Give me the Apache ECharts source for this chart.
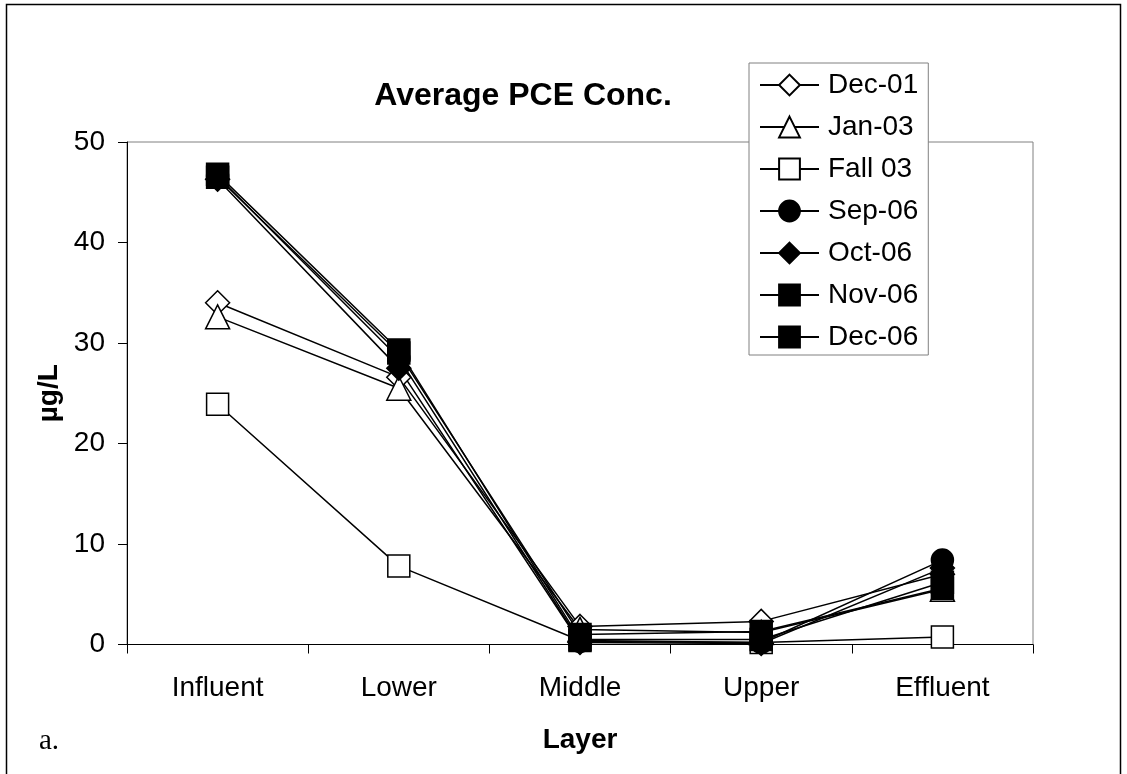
<!DOCTYPE html>
<html>
<head>
<meta charset="utf-8">
<script src="https://cdn.jsdelivr.net/npm/echarts@6/dist/echarts.min.js"></script>
<style>
html,body{margin:0;padding:0;background:#fff;}
#c{width:1127px;height:774px;}
</style>
</head>
<body>
<div id="c"></div>
<script>
var categories = ['Influent', 'Lower', 'Middle', 'Upper', 'Effluent'];
var seriesNames = ['Dec-01', 'Jan-03', 'Fall 03', 'Sep-06', 'Oct-06', 'Nov-06', 'Dec-06'];
var dec01 = [34.0, 26.6, 1.8, 2.3, 7.0];
var jan03 = [32.6, 25.5, 1.5, 1.2, 5.5];
var fall03 = [23.9, 7.8, 0.4, 0.2, 0.75];
var sep06 = [46.6, 28.5, 0.3, 0.2, 8.4];
var oct06 = [46.3, 27.5, 0.2, 0.1, 7.6];
var nov06 = [46.5, 29.0, 1.0, 1.3, 5.6];
var dec06 = [46.8, 29.3, 0.5, 0.5, 6.2];
var yTicks = [0, 10, 20, 30, 40, 50];

var FONT = 'Liberation Sans, Arial, sans-serif';
var seriesData = [dec01, jan03, fall03, sep06, oct06, nov06, dec06];
var symbols = ['diamond', 'triangle', 'rect', 'circle', 'diamond', 'rect', 'rect'];
var sizes = [24, 24, 22, 22, 24, 22, 22];
var filled = [false, false, false, true, true, true, true];

var series = seriesNames.map(function (n, i) {
  return {
    name: n,
    type: 'line',
    data: seriesData[i],
    symbol: symbols[i],
    symbolSize: sizes[i],
    showAllSymbol: true,
    animation: false,
    lineStyle: { color: '#000', width: 1.5 },
    itemStyle: {
      color: filled[i] ? '#000' : '#fff',
      borderColor: '#000',
      borderWidth: 1.5
    }
  };
});

var chart = echarts.init(document.getElementById('c'), null, { renderer: 'canvas' });
chart.setOption({
  backgroundColor: '#fff',
  animation: false,
  title: {
    text: 'Average PCE Conc.',
    left: 518,
    top: 75,
    textAlign: 'center',
    textStyle: { fontFamily: FONT, fontSize: 32, fontWeight: 'bold', color: '#000' }
  },
  grid: {
    left: 127, top: 142, right: 94, bottom: 129.5,
    show: true, borderColor: '#808080', borderWidth: 1, backgroundColor: '#fff'
  },
  legend: {
    orient: 'vertical',
    left: 749,
    top: 63,
    padding: [8, 10, 4, 10],
    itemWidth: 59,
    itemHeight: 26,
    itemGap: 14,
    backgroundColor: '#fff',
    borderColor: '#808080',
    borderWidth: 1,
    borderRadius: 0,
    textStyle: { fontFamily: FONT, fontSize: 28, lineHeight: 28, color: '#000', padding: [0, 0, 0, 4] },
    data: seriesNames
  },
  xAxis: {
    type: 'category',
    data: categories,
    boundaryGap: true,
    axisLine: { lineStyle: { color: '#000', width: 1 } },
    axisTick: { show: true, length: 9, lineStyle: { color: '#000' } },
    axisLabel: { fontFamily: FONT, fontSize: 28, color: '#000', margin: 30 },
    splitLine: { show: false },
    name: 'Layer',
    nameLocation: 'middle',
    nameGap: 82,
    nameTextStyle: { fontFamily: FONT, fontSize: 28, fontWeight: 'bold', color: '#000' }
  },
  yAxis: {
    type: 'value',
    min: yTicks[0],
    max: yTicks[yTicks.length - 1],
    interval: yTicks[1] - yTicks[0],
    axisLine: { show: true, lineStyle: { color: '#000', width: 1 } },
    axisTick: { show: true, length: 9, lineStyle: { color: '#000' } },
    axisLabel: { fontFamily: FONT, fontSize: 28, color: '#000', margin: 22 },
    splitLine: { show: false },
    name: 'µg/L',
    nameLocation: 'middle',
    nameRotate: 90,
    nameGap: 63,
    nameTextStyle: { fontFamily: FONT, fontSize: 28, fontWeight: 'bold', color: '#000' }
  },
  graphic: [
    {
      type: 'rect',
      shape: { x: 6.5, y: 4.5, width: 1114, height: 790 },
      style: { fill: 'none', stroke: '#000', lineWidth: 1.5 },
      silent: true
    },
    {
      type: 'text',
      left: 39,
      top: 727,
      style: { text: 'a.', font: '29px "Liberation Serif", "Times New Roman", serif', fill: '#000' }
    }
  ],
  series: series
});
</script>
</body>
</html>
